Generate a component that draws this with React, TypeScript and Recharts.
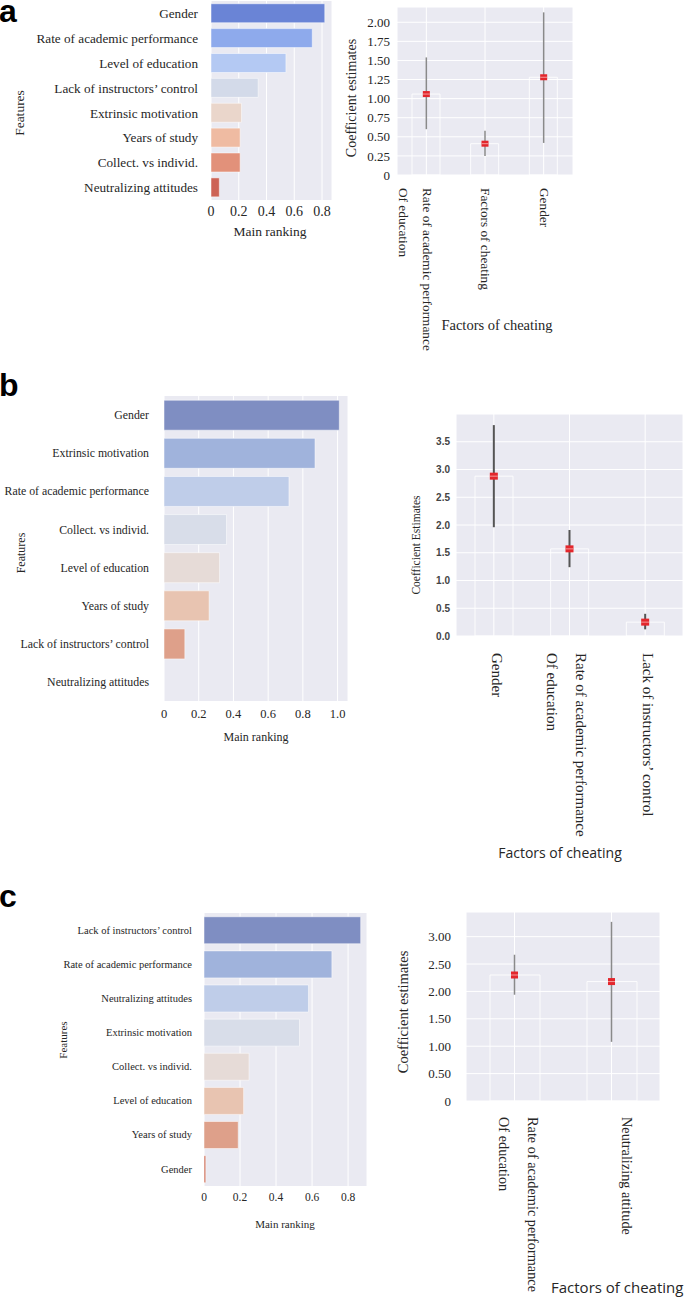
import React from 'react'
import { BarChart, Bar, Cell, XAxis, YAxis, CartesianGrid, ComposedChart, Line, ErrorBar } from 'recharts'

const SERIF = '"Liberation Serif", "Times New Roman", serif'
const SANS = '"Open Sans", "Liberation Sans", sans-serif'
const BG = '#eaeaf2'
const INK = '#262626'

// ---- panel a ----
const featuresA = ['Gender', 'Rate of academic performance', 'Level of education', 'Lack of instructors’ control', 'Extrinsic motivation', 'Years of study', 'Collect. vs individ.', 'Neutralizing attitudes']
const rankingA = [0.82, 0.73, 0.54, 0.34, 0.22, 0.21, 0.21, 0.06]
const colorsA = ['#6a84d6', '#8eaaec', '#b4c9f3', '#d3dae9', '#ead6cb', '#efbba2', '#e2917a', '#cd6356']
const rankTicksA = [0, 0.2, 0.4, 0.6, 0.8]

const factorsA = ['Rate of academic performance\nOf education', 'Factors of cheating', 'Gender']
const coefA = [1.06, 0.41, 1.28]
const lowA = [0.6, 0.25, 0.42]
const highA = [1.54, 0.58, 2.13]
const coefTicksA = [0, 0.25, 0.5, 0.75, 1, 1.25, 1.5, 1.75, 2]

// ---- panel b ----
const featuresB = ['Gender', 'Extrinsic motivation', 'Rate of academic performance', 'Collect. vs individ.', 'Level of education', 'Years of study', 'Lack of instructors’ control', 'Neutralizing attitudes']
const rankingB = [1.01, 0.87, 0.72, 0.36, 0.32, 0.26, 0.12, 0]
const colorsB = ['#7f8ec2', '#a0b3dc', '#bfcde9', '#d8dde9', '#e6dbd7', '#e8c4b1', '#dea08a', '#d27a66']
const rankTicksB = [0, 0.2, 0.4, 0.6, 0.8, 1.0]

const factorsB = ['Gender', 'Rate of academic performance\nOf education', 'Lack of instructors’ control']
const coefB = [2.88, 1.57, 0.25]
const lowB = [1.96, 1.24, 0.12]
const highB = [3.8, 1.91, 0.4]
const coefTicksB = [0, 0.5, 1, 1.5, 2, 2.5, 3, 3.5]

// ---- panel c ----
const featuresC = ['Lack of instructors’ control', 'Rate of academic performance', 'Neutralizing attitudes', 'Extrinsic motivation', 'Collect. vs individ.', 'Level of education', 'Years of study', 'Gender']
const rankingC = [0.87, 0.71, 0.58, 0.53, 0.25, 0.22, 0.19, 0.01]
const colorsC = ['#7f8ec2', '#a0b3dc', '#bfcde9', '#d8dde9', '#e6dbd7', '#e8c4b1', '#dea08a', '#d27a66']
const rankTicksC = [0, 0.2, 0.4, 0.6, 0.8]

const factorsC = ['Rate of academic performance\nOf education', 'Neutralizing attitude']
const coefC = [2.3, 2.18]
const lowC = [1.94, 1.08]
const highC = [2.67, 3.27]
const coefTicksC = [0, 0.5, 1, 1.5, 2, 2.5, 3]

const fmtShort = (v: number) => (v === 0 ? '0' : String(v))
const fmtOne = (v: number) => (v === 0 ? '0' : v.toFixed(1))
const fmtTwo = (v: number) => (v === 0 ? '0' : v.toFixed(2))

// plain svg text so recharts does not try to wrap long feature names
const FeatureTick = (props: any) => {
  const { x, y, payload, size } = props
  return (
    <text x={x} y={y} dy="0.35em" textAnchor="end" fontFamily={SERIF} fontSize={size} fill={INK}>
      {payload.value}
    </text>
  )
}

type RankProps = {
  names: string[]
  values: number[]
  colors: string[]
  ticks: number[]
  max: number
  fmt: (v: number) => string
  left: number
  top: number
  width: number
  height: number
  marginTop: number
  marginRight: number
  axisWidth: number
  xAxisHeight: number
  labelSize: number
  labelGap: number
  tickSize: number
  tickGap: number
}

function RankingChart(p: RankProps) {
  const data = p.names.map((name, i) => ({ name, value: p.values[i] }))
  return (
    <div style={{ position: 'absolute', left: p.left, top: p.top }}>
      <BarChart
        width={p.width}
        height={p.height}
        data={data}
        layout="vertical"
        barCategoryGap="11%"
        margin={{ top: p.marginTop, right: p.marginRight, bottom: 0, left: 0 }}
      >
        <CartesianGrid horizontal={false} stroke="#ffffff" fill={BG} />
        <XAxis
          type="number"
          domain={[0, p.max]}
          ticks={p.ticks}
          tickFormatter={p.fmt}
          height={p.xAxisHeight}
          axisLine={false}
          tickLine={false}
          tickSize={0}
          tickMargin={p.tickGap}
          interval={0}
          tick={{ fontFamily: SERIF, fontSize: p.tickSize, fill: INK }}
        />
        <YAxis
          type="category"
          dataKey="name"
          width={p.axisWidth}
          axisLine={false}
          tickLine={false}
          tickSize={0}
          tickMargin={p.labelGap}
          interval={0}
          tick={(t: any) => <FeatureTick {...t} size={p.labelSize} />}
        />
        <Bar dataKey="value" isAnimationActive={false} stroke="#ffffff" strokeOpacity={0.5}>
          {data.map((d, i) => (
            <Cell key={d.name} fill={p.colors[i]} />
          ))}
        </Bar>
      </BarChart>
    </div>
  )
}

const FactorTick = (props: any) => {
  const { x, y, payload, size, single, pair } = props
  const lines = String(payload.value).split('\n')
  const offs = lines.length > 1 ? pair : [single]
  return (
    <g>
      {lines.map((t: string, i: number) => {
        const cx = x + offs[i]
        return (
          <text key={i} x={cx} y={y} dy="0.35em" transform={`rotate(90 ${cx} ${y})`} fontFamily={SERIF} fontSize={size} fill={INK}>
            {t}
          </text>
        )
      })}
    </g>
  )
}

const Marker = (props: any) => {
  const { cx, cy, index, w, h } = props
  if (cx == null || cy == null) return <g key={index} />
  return (
    <g key={index}>
      <rect x={cx - w / 2} y={cy - h / 2} width={w} height={h} fill="#e3262c" />
      <line x1={cx - w / 2} x2={cx + w / 2} y1={cy} y2={cy} stroke="#f39a9a" strokeWidth={1} />
    </g>
  )
}

type CoefProps = {
  factors: string[]
  coef: number[]
  low: number[]
  high: number[]
  ticks: number[]
  max: number
  fmt: (v: number) => string
  left: number
  top: number
  width: number
  height: number
  marginTop: number
  marginRight: number
  axisWidth: number
  xAxisHeight: number
  yTick: any
  yGap: number
  factorSize: number
  factorGap: number
  single: number
  pair: number[]
  barSize: number
  errColor: string
  errWidth: number
  markW: number
  markH: number
}

function CoefChart(p: CoefProps) {
  const data = p.factors.map((name, i) => ({
    name,
    coef: p.coef[i],
    err: [p.coef[i] - p.low[i], p.high[i] - p.coef[i]],
  }))
  return (
    <div style={{ position: 'absolute', left: p.left, top: p.top }}>
      <ComposedChart
        width={p.width}
        height={p.height}
        data={data}
        margin={{ top: p.marginTop, right: p.marginRight, bottom: 0, left: 0 }}
      >
        <CartesianGrid stroke="#ffffff" fill={BG} />
        <XAxis
          dataKey="name"
          type="category"
          height={p.xAxisHeight}
          axisLine={false}
          tickLine={false}
          tickSize={0}
          tickMargin={p.factorGap}
          interval={0}
          tick={(t: any) => <FactorTick {...t} size={p.factorSize} single={p.single} pair={p.pair} />}
        />
        <YAxis
          type="number"
          domain={[0, p.max]}
          ticks={p.ticks}
          tickFormatter={p.fmt}
          width={p.axisWidth}
          axisLine={false}
          tickLine={false}
          tickSize={0}
          tickMargin={p.yGap}
          interval={0}
          tick={p.yTick}
        />
        <Bar dataKey="coef" barSize={p.barSize} fill="none" stroke="#ffffff" strokeOpacity={0.85} isAnimationActive={false} />
        <Line
          dataKey="coef"
          stroke="none"
          isAnimationActive={false}
          activeDot={false}
          dot={(d: any) => <Marker key={d.index} {...d} w={p.markW} h={p.markH} />}
        >
          <ErrorBar dataKey="err" width={0} stroke={p.errColor} strokeWidth={p.errWidth} />
        </Line>
      </ComposedChart>
    </div>
  )
}

const Caption = ({ x, y, size, font = SERIF, rotate = 0, start = false, children }: any) => (
  <div
    style={{
      position: 'absolute',
      left: x,
      top: y,
      transform: `translate(${start ? '0' : '-50%'}, -50%) rotate(${rotate}deg)`,
      whiteSpace: 'nowrap',
      fontFamily: font,
      fontSize: size,
      lineHeight: 1,
      color: INK,
    }}
  >
    {children}
  </div>
)

// panel letter: box of 22px line height, baseline ends up ~22px below the box top
const Letter = ({ x, top, children }: any) => (
  <div
    style={{
      position: 'absolute',
      left: x,
      top,
      fontFamily: '"Liberation Sans", Arial, sans-serif',
      fontWeight: 'bold',
      fontSize: 32,
      lineHeight: '22px',
      color: '#000',
    }}
  >
    {children}
  </div>
)

export default function App() {
  return (
    <div style={{ position: 'absolute', left: 0, top: 0, width: 685, height: 1297, overflow: 'hidden', background: '#fff' }}>
      {/* a */}
      <RankingChart
        names={featuresA} values={rankingA} colors={colorsA} ticks={rankTicksA} max={0.872} fmt={fmtShort}
        left={0} top={0} width={345} height={245} marginTop={1} marginRight={13} axisWidth={211} xAxisHeight={45}
        labelSize={13.2} labelGap={13} tickSize={14} tickGap={6}
      />
      <CoefChart
        factors={factorsA} coef={coefA} low={lowA} high={highA} ticks={coefTicksA} max={2.2} fmt={fmtTwo}
        left={340} top={0} width={345} height={352} marginTop={7} marginRight={112} axisWidth={57} xAxisHeight={177}
        yTick={{ fontFamily: SERIF, fontSize: 13, fill: INK }} yGap={7}
        factorSize={13.3} factorGap={13} single={1} pair={[1, -23]} barSize={28}
        errColor="#8a8a8a" errWidth={1.5} markW={7} markH={6}
      />
      <Letter x={-1} top={0}>a</Letter>
      <Caption x={20} y={113} size={13.5} rotate={-90}>Features</Caption>
      <Caption x={270} y={232} size={13.5}>Main ranking</Caption>
      <Caption x={352} y={98} size={14} rotate={-90}>Coefficient estimates</Caption>
      <Caption x={497} y={325} size={14.5}>Factors of cheating</Caption>

      {/* b */}
      <RankingChart
        names={featuresB} values={rankingB} colors={colorsB} ticks={rankTicksB} max={1.06} fmt={fmtOne}
        left={0} top={360} width={360} height={390} marginTop={36} marginRight={12} axisWidth={164} xAxisHeight={49}
        labelSize={11.8} labelGap={15} tickSize={12.5} tickGap={8}
      />
      <CoefChart
        factors={factorsB} coef={coefB} low={lowB} high={highB} ticks={coefTicksB} max={4} fmt={(v: number) => v.toFixed(1)}
        left={360} top={360} width={325} height={500} marginTop={54} marginRight={2} axisWidth={96} xAxisHeight={224}
        yTick={{ fontFamily: '"Liberation Sans", Arial, sans-serif', fontSize: 10, fontWeight: 'bold', fill: '#444' }} yGap={6}
        factorSize={15} factorGap={17} single={3} pair={[12, -17]} barSize={38}
        errColor="#555555" errWidth={2} markW={8} markH={7}
      />
      <Letter x={-1} top={374}>b</Letter>
      <Caption x={21} y={553} size={12} rotate={-90}>Features</Caption>
      <Caption x={256} y={737} size={12}>Main ranking</Caption>
      <Caption x={417} y={545} size={11.5} rotate={-90}>Coefficient Estimates</Caption>
      <Caption x={560} y={853} size={14} font={SANS}>Factors of cheating</Caption>

      {/* c */}
      <RankingChart
        names={featuresC} values={rankingC} colors={colorsC} ticks={rankTicksC} max={0.905} fmt={fmtShort}
        left={0} top={880} width={380} height={350} marginTop={33} marginRight={13} axisWidth={204} xAxisHeight={44}
        labelSize={10.5} labelGap={12} tickSize={11.5} tickGap={7}
      />
      <CoefChart
        factors={factorsC} coef={coefC} low={lowC} high={highC} ticks={coefTicksC} max={3.45} fmt={fmtTwo}
        left={360} top={880} width={325} height={417} marginTop={32} marginRight={25} axisWidth={106} xAxisHeight={196}
        yTick={{ fontFamily: SERIF, fontSize: 13, fill: INK }} yGap={15}
        factorSize={14.3} factorGap={16} single={15} pair={[18, -11]} barSize={50}
        errColor="#8a8a8a" errWidth={1.5} markW={7} markH={7}
      />
      <Letter x={-1} top={885}>c</Letter>
      <Caption x={63} y={1040} size={11} rotate={-90}>Features</Caption>
      <Caption x={285} y={1224} size={11}>Main ranking</Caption>
      <Caption x={403} y={1012} size={14.5} rotate={-90}>Coefficient estimates</Caption>
      <Caption x={551} y={1287} size={15} font={SANS} start>Factors of cheating</Caption>
    </div>
  )
}
